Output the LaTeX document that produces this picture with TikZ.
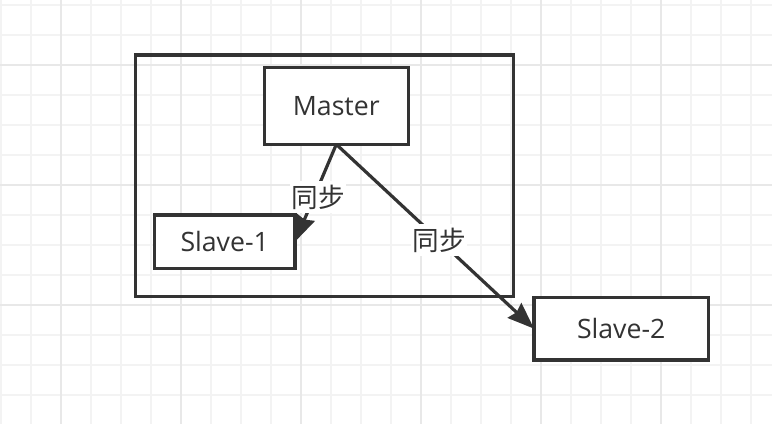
\documentclass[tikz,border=0pt]{standalone}
\usepackage{fontspec}
\setmainfont{Open Sans}
\newfontfamily\cjk{Noto Sans CJK SC}
\usetikzlibrary{arrows.meta,backgrounds}
\definecolor{inkgray}{RGB}{51,51,51}
\definecolor{gridminor}{RGB}{243,243,243}
\definecolor{gridmajor}{RGB}{232,232,232}

\begin{document}
\begin{tikzpicture}[
  x=0.75pt, y=-0.75pt,
  box/.style={rectangle, draw=inkgray, line width=2.5pt, fill=white, inner sep=0pt, outer sep=0pt, text=inkgray, font=\fontsize{20}{24}\selectfont},
  sync/.style={-{Stealth[length=20pt, width=15pt, inset=2pt]}, draw=inkgray, line width=2.4pt},
  lbl/.style={fill=white, text=inkgray, inner xsep=1pt, inner ysep=3pt, font=\cjk\fontsize{20}{24}\selectfont}
]
\useasboundingbox (0,0) rectangle (772,424);
% grid
\begin{scope}[on background layer]
  \fill[white] (0,0) rectangle (772,424);
  \foreach \x in {1,31,...,751} \draw[gridminor, line width=1.1pt] (\x,0) -- (\x,424);
  \foreach \y in {5,35,...,425} \draw[gridminor, line width=1.1pt] (0,\y) -- (772,\y);
  \foreach \x in {61,181,...,661} \draw[gridmajor, line width=1.1pt] (\x,0) -- (\x,424);
  \foreach \y in {65,185,305} \draw[gridmajor, line width=1.1pt] (0,\y) -- (772,\y);
\end{scope}

\node[box, fill=none, minimum width=283.2pt, minimum height=181.3pt] (frame) at (324.5,175.8) {};
\node[box, minimum width=108pt, minimum height=57.5pt] (master) at (336.3,106) {Master};
\node[box, minimum width=105.5pt, minimum height=40pt] (slave1) at (224.7,241.7) {Slave-1};
\node[box, minimum width=130.7pt, minimum height=47pt] (slave2) at (621.2,328.7) {Slave-2};

\begin{scope}[on background layer]
  \draw[sync] (master.south) -- node[lbl, pos=0.54, xshift=3pt] {同步} (slave1.east);
  \draw[sync] (master.south) -- node[lbl, pos=0.52] {同步} (slave2.west);
\end{scope}
\end{tikzpicture}
\end{document}
